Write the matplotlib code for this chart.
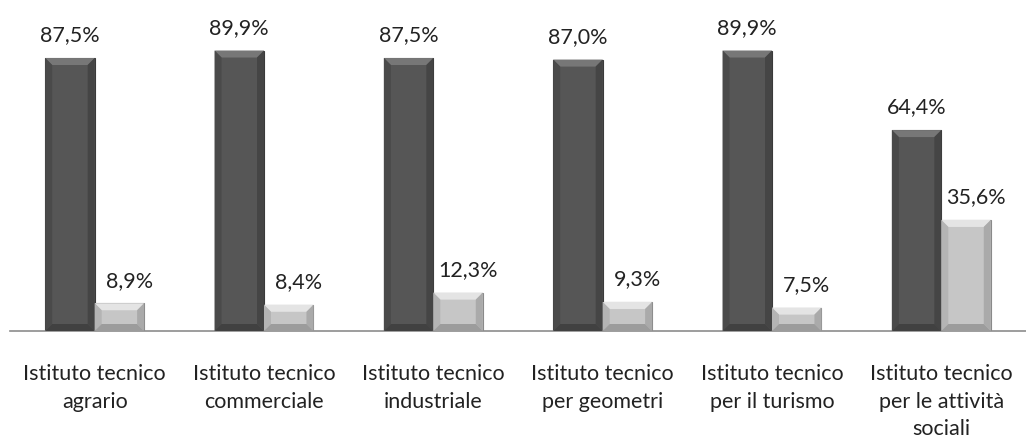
import matplotlib
matplotlib.use("Agg")
import matplotlib.pyplot as plt
from matplotlib.patches import Polygon
from matplotlib.transforms import IdentityTransform
import numpy as np

# Data
categories = [
    "Istituto tecnico\nagrario",
    "Istituto tecnico\ncommerciale",
    "Istituto tecnico\nindustriale",
    "Istituto tecnico\nper geometri",
    "Istituto tecnico\nper il turismo",
    "Istituto tecnico\nper le attività\nsociali",
]
serie_scura = [87.5, 89.9, 87.5, 87.0, 89.9, 64.4]
serie_chiara = [8.9, 8.4, 12.3, 9.3, 7.5, 35.6]

plt.rcParams['font.family'] = ['Lato', 'DejaVu Sans']

fig = plt.figure(figsize=(10.26, 4.41), dpi=100)
ax = fig.add_axes([10 / 1026, 1 - 331 / 441, 1 - 10 / 1026, 331 / 441])

x = np.arange(len(categories))
w = 0.292
bars_d = ax.bar(x - w / 2, serie_scura, w, color="#565656", edgecolor="#3a3a3a", linewidth=0.8, zorder=2)
bars_l = ax.bar(x + w / 2, serie_chiara, w, color="#c6c6c6", edgecolor="#8a8a8a", linewidth=0.8, zorder=2)

ax.set_xlim(-0.5, len(categories) - 0.5)
ax.set_ylim(0, 106.1)

for s in ["top", "right", "left"]:
    ax.spines[s].set_visible(False)
ax.spines["bottom"].set_color("#8c8c8c")
ax.spines["bottom"].set_linewidth(1.2)
ax.set_yticks([])
ax.set_xticks(x)
ax.set_xticklabels(categories, fontsize=15.5, linespacing=1.45, color="#222222")
ax.tick_params(axis="x", length=0, pad=24)

fig.canvas.draw()


def bevel(bar, top_c, left_c, right_c, bottom_c, b=7):
    (x0, y0), (x1, y1) = ax.transData.transform(
        [(bar.get_x(), 0), (bar.get_x() + bar.get_width(), bar.get_height())])
    bb = min(b, (y1 - y0) / 2.2)
    pieces = [
        ([(x0, y1), (x1, y1), (x1 - bb, y1 - bb), (x0 + bb, y1 - bb)], top_c),
        ([(x0, y0), (x0, y1), (x0 + bb, y1 - bb), (x0 + bb, y0 + bb)], left_c),
        ([(x1, y0), (x1, y1), (x1 - bb, y1 - bb), (x1 - bb, y0 + bb)], right_c),
        ([(x0, y0), (x1, y0), (x1 - bb, y0 + bb), (x0 + bb, y0 + bb)], bottom_c),
    ]
    for pts, c in pieces:
        ax.add_patch(Polygon(pts, closed=True, facecolor=c, edgecolor="none",
                             transform=IdentityTransform(), zorder=3))


for bar in bars_d:
    bevel(bar, "#777777", "#4a4a4a", "#454545", "#414141")
for bar in bars_l:
    bevel(bar, "#e4e4e4", "#b4b4b4", "#aaaaaa", "#9c9c9c")


def label(bar, v, dx):
    ax.annotate(f"{v:.1f}%".replace(".", ","), (bar.get_x() + bar.get_width() / 2, v),
                xytext=(dx, 9), textcoords="offset points", ha="center", va="bottom",
                fontsize=15.5, color="#222222", annotation_clip=False)


for bar, v in zip(bars_d, serie_scura):
    label(bar, v, 0)
for bar, v in zip(bars_l, serie_chiara):
    label(bar, v, 7)

fig.savefig("out.png", dpi=100)
